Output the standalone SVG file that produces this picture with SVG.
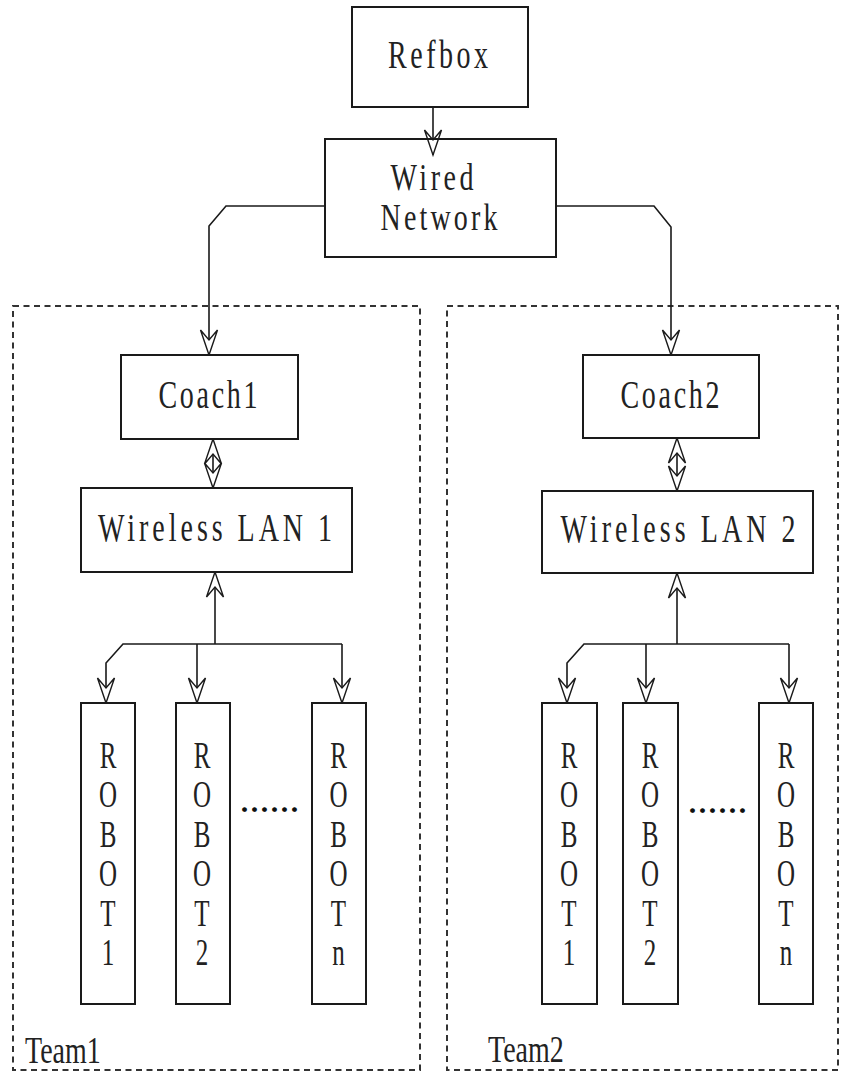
<svg xmlns="http://www.w3.org/2000/svg" width="847" height="1072" viewBox="0 0 847 1072">
<style>
.box{fill:#fff;stroke:#1a1a1a;stroke-width:2}
.team{fill:none;stroke:#333;stroke-width:2;stroke-dasharray:6 4.5}
.conn{fill:none;stroke:#1a1a1a;stroke-width:1.6}
.lbl{font-family:"Liberation Serif","Times New Roman",serif;font-size:28px;fill:#222;text-anchor:middle}
.rob{font-family:"Liberation Serif","Times New Roman",serif;font-size:25px;fill:#222;text-anchor:middle}
.tm{font-family:"Liberation Serif","Times New Roman",serif;font-size:28px;fill:#222}
.dots{font-family:"Noto Sans CJK SC",sans-serif;font-size:30px;fill:#111;text-anchor:middle;font-weight:bold}
</style>
<defs>
<marker id="ah" markerUnits="userSpaceOnUse" viewBox="-28 -11 30 22" markerWidth="30" markerHeight="22" refX="0" refY="0" orient="auto-start-reverse">
<path d="M0,0 L-25,-8.5 L-15,0 L-25,8.5 Z" fill="#fff" stroke="#1a1a1a" stroke-width="1.4" stroke-linejoin="miter"/>
</marker>
</defs>
<rect width="847" height="1072" fill="#fff"/>

<g id="team1">
<rect class="team" x="13" y="306" width="407" height="764"/>
<g transform="translate(25,1063) scale(1,1.35)"><text class="tm" x="0" y="0">Team1</text></g>
</g>
<g id="team2">
<rect class="team" x="447" y="306" width="391" height="764"/>
<g transform="translate(488,1062) scale(1,1.35)"><text class="tm" x="0" y="0">Team2</text></g>
</g>

<g id="connectors">
<path class="conn" d="M433,107 L433,155" marker-end="url(#ah)"/>
<path class="conn" d="M325,206 L226,206 L209,226 L209,355" marker-end="url(#ah)"/>
<path class="conn" d="M556,206 L654,206 L671,227 L671,355" marker-end="url(#ah)"/>
<path class="conn" d="M213,439 L213,488" marker-start="url(#ah)" marker-end="url(#ah)"/>
<path class="conn" d="M677,438 L677,491" marker-start="url(#ah)" marker-end="url(#ah)"/>
<path class="conn" d="M215,644 L215,572" marker-end="url(#ah)"/>
<path class="conn" d="M342,644 L123,644 L106,663 L106,703" marker-end="url(#ah)"/>
<path class="conn" d="M197,644 L197,703" marker-end="url(#ah)"/>
<path class="conn" d="M342,644 L342,703" marker-end="url(#ah)"/>
<path class="conn" d="M677,644 L677,573" marker-end="url(#ah)"/>
<path class="conn" d="M789,644 L584,644 L567,663 L567,703" marker-end="url(#ah)"/>
<path class="conn" d="M646,644 L646,703" marker-end="url(#ah)"/>
<path class="conn" d="M789,644 L789,703" marker-end="url(#ah)"/>
</g>

<g id="refbox">
<rect class="box" x="352" y="7" width="176" height="100"/>
<g transform="translate(438,68) scale(1,1.4)"><text class="lbl" textLength="100" lengthAdjust="spacing">Refbox</text></g>
</g>
<g id="wired">
<rect class="box" x="325" y="139" width="231" height="118" fill-opacity="0"/>
<g transform="translate(432,190) scale(1,1.35)"><text class="lbl" textLength="83" lengthAdjust="spacing">Wired</text></g>
<g transform="translate(439,230) scale(1,1.35)"><text class="lbl" textLength="117" lengthAdjust="spacing">Network</text></g>
</g>
<g id="coach1">
<rect class="box" x="121" y="355" width="177" height="84"/>
<g transform="translate(208,408) scale(1,1.4)"><text class="lbl" textLength="99" lengthAdjust="spacing">Coach1</text></g>
</g>
<g id="coach2">
<rect class="box" x="583" y="355" width="176" height="83"/>
<g transform="translate(670,408) scale(1,1.4)"><text class="lbl" textLength="99" lengthAdjust="spacing">Coach2</text></g>
</g>
<g id="wlan1">
<rect class="box" x="81" y="488" width="271" height="84"/>
<g transform="translate(215,540.5) scale(1,1.4)"><text class="lbl" textLength="234" lengthAdjust="spacing">Wireless LAN 1</text></g>
</g>
<g id="wlan2">
<rect class="box" x="542" y="491" width="271" height="82"/>
<g transform="translate(678,542) scale(1,1.4)"><text class="lbl" textLength="235" lengthAdjust="spacing">Wireless LAN 2</text></g>
</g>

<g id="t1robot1">
<rect class="box" x="81" y="703" width="54" height="301"/>
<g transform="translate(108,768) scale(1,1.5)"><text class="rob"><tspan x="0" y="0">R</tspan><tspan x="0" dy="26.33">O</tspan><tspan x="0" dy="26.33">B</tspan><tspan x="0" dy="26.33">O</tspan><tspan x="0" dy="26.33">T</tspan><tspan x="0" dy="26.33">1</tspan></text></g>
</g>
<g id="t1robot2">
<rect class="box" x="176" y="703" width="54" height="301"/>
<g transform="translate(202,768) scale(1,1.5)"><text class="rob"><tspan x="0" y="0">R</tspan><tspan x="0" dy="26.33">O</tspan><tspan x="0" dy="26.33">B</tspan><tspan x="0" dy="26.33">O</tspan><tspan x="0" dy="26.33">T</tspan><tspan x="0" dy="26.33">2</tspan></text></g>
</g>
<g id="t1dots"><text class="dots" x="269.5" y="821">……</text></g>
<g id="t1robotn">
<rect class="box" x="312" y="703" width="54" height="301"/>
<g transform="translate(338.5,768) scale(1,1.5)"><text class="rob"><tspan x="0" y="0">R</tspan><tspan x="0" dy="26.33">O</tspan><tspan x="0" dy="26.33">B</tspan><tspan x="0" dy="26.33">O</tspan><tspan x="0" dy="26.33">T</tspan><tspan x="0" dy="26.33">n</tspan></text></g>
</g>

<g id="t2robot1">
<rect class="box" x="542" y="703" width="55" height="301"/>
<g transform="translate(569,768) scale(1,1.5)"><text class="rob"><tspan x="0" y="0">R</tspan><tspan x="0" dy="26.33">O</tspan><tspan x="0" dy="26.33">B</tspan><tspan x="0" dy="26.33">O</tspan><tspan x="0" dy="26.33">T</tspan><tspan x="0" dy="26.33">1</tspan></text></g>
</g>
<g id="t2robot2">
<rect class="box" x="623" y="703" width="55" height="301"/>
<g transform="translate(650,768) scale(1,1.5)"><text class="rob"><tspan x="0" y="0">R</tspan><tspan x="0" dy="26.33">O</tspan><tspan x="0" dy="26.33">B</tspan><tspan x="0" dy="26.33">O</tspan><tspan x="0" dy="26.33">T</tspan><tspan x="0" dy="26.33">2</tspan></text></g>
</g>
<g id="t2dots"><text class="dots" x="717.5" y="821.5">……</text></g>
<g id="t2robotn">
<rect class="box" x="759" y="703" width="54" height="301"/>
<g transform="translate(786,768) scale(1,1.5)"><text class="rob"><tspan x="0" y="0">R</tspan><tspan x="0" dy="26.33">O</tspan><tspan x="0" dy="26.33">B</tspan><tspan x="0" dy="26.33">O</tspan><tspan x="0" dy="26.33">T</tspan><tspan x="0" dy="26.33">n</tspan></text></g>
</g>
</svg>
